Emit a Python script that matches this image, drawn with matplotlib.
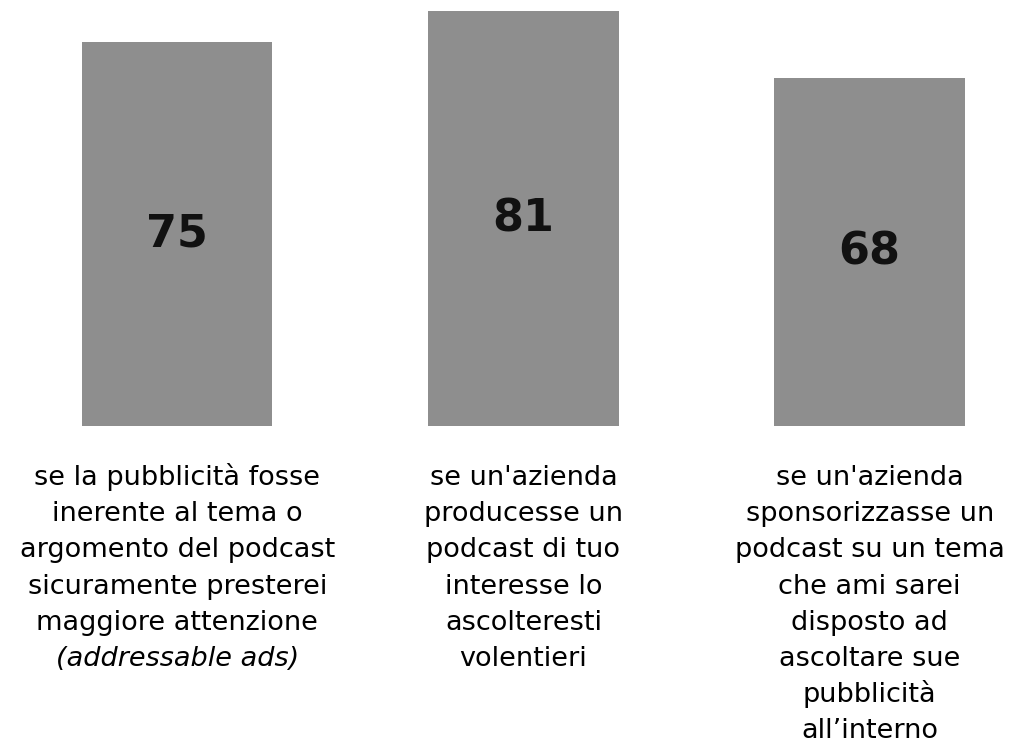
import matplotlib
matplotlib.use("Agg")
import matplotlib.pyplot as plt

values = [75, 81, 68]
labels = [
    ["se la pubblicità fosse", "inerente al tema o", "argomento del podcast",
     "sicuramente presterei", "maggiore attenzione", "(addressable ads)"],
    ["se un'azienda", "producesse un", "podcast di tuo", "interesse lo",
     "ascolteresti", "volentieri"],
    ["se un'azienda", "sponsorizzasse un", "podcast su un tema", "che ami sarei",
     "disposto ad", "ascoltare sue", "pubblicità", "all\u2019interno"],
]
italic_lines = ["(addressable ads)"]

fig = plt.figure(figsize=(10.13, 7.54), dpi=100)
ax = fig.add_axes([0, 1 - 426 / 754, 1, 426 / 754])

x = [0, 1, 2]
ax.bar(x, values, width=0.55, color="#8e8e8e")
ax.set_xlim(-0.512, 2.414)
ax.set_ylim(0, 83.2)
ax.axis("off")

for i, v in enumerate(values):
    ax.text(i, v / 2, str(v), ha="center", va="center", fontsize=32,
            fontweight="bold", family="DejaVu Sans", color="#111111")

# one text per line so the italic line keeps the same spacing
px = 426 / 83.2
for i, lines in enumerate(labels):
    for k, line in enumerate(lines):
        y = (426 - 485 - k * 36.2) / px
        ax.text(i, y, line, ha="center", va="baseline", fontsize=19.5,
                family="DejaVu Sans", clip_on=False,
                style="italic" if line in italic_lines else "normal")

fig.savefig("out.png", dpi=100)
